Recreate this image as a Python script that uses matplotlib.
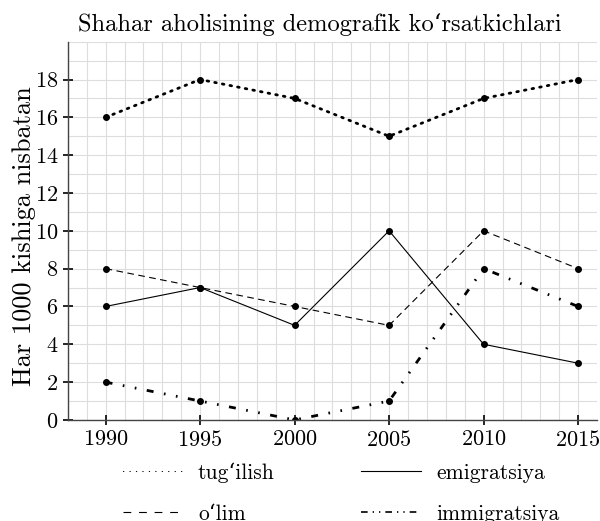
import matplotlib.pyplot as plt
from matplotlib.lines import Line2D

plt.rcParams['font.family'] = ['cmr10', 'DejaVu Serif']
plt.rcParams['mathtext.fontset'] = 'cm'
plt.rcParams['axes.formatter.use_mathtext'] = True

years = [1990, 1995, 2000, 2005, 2010, 2015]
tugilish = [16, 18, 17, 15, 17, 18]
olim = [8, 7, 6, 5, 10, 8]
emigratsiya = [6, 7, 5, 10, 4, 3]
immigratsiya = [2, 1, 0, 1, 8, 6]
labels = ['tug‘ilish', 'o‘lim', 'emigratsiya', 'immigratsiya']

fig = plt.figure(figsize=(6.0, 5.21), dpi=100)
ax = fig.add_axes([0.113, 0.194, 0.882, 0.726])

dot_style = (0, (0.6, 2.2))
dash_style = (0, (6, 4))
dashdot_style = (0, (2.5, 3.8, 0.6, 3.8, 0.6, 3.8))

ax.plot(years, tugilish, color='black', linestyle=dot_style, linewidth=2.0,
        dash_capstyle='round', marker='o', markersize=4)
ax.plot(years, olim, color='black', linestyle=dash_style, linewidth=0.8,
        marker='o', markersize=4)
ax.plot(years, emigratsiya, color='black', linestyle='-', linewidth=0.8,
        marker='o', markersize=4)
ax.plot(years, immigratsiya, color='black', linestyle=dashdot_style,
        linewidth=2.0, marker='o', markersize=4)

ax.set_xlim(1988, 2016)
ax.set_ylim(0, 20)
ax.set_xticks(years)
ax.set_yticks(range(0, 19, 2))
ax.set_xticks(range(1988, 2017), minor=True)
ax.set_yticks(range(0, 21), minor=True)
ax.grid(True, which='both', color='#dddddd', linewidth=0.8)
ax.set_axisbelow(True)
ax.tick_params(which='major', direction='inout', length=7, width=1.2, labelsize=16)
ax.tick_params(which='minor', length=0)
for s in ['top', 'right']:
    ax.spines[s].set_visible(False)
for s in ['left', 'bottom']:
    ax.spines[s].set_color('#444444')
    ax.spines[s].set_linewidth(1.0)

ax.set_ylabel('Har 1000 kishiga nisbatan', fontsize=19, labelpad=-1, y=0.485)
ax.set_title('Shahar aholisining demografik ko‘rsatkichlari', fontsize=17.6, pad=8, x=0.477)

# thin legend samples, like the reference
proxies = [
    Line2D([], [], color='black', linewidth=0.8, linestyle=(0, (0.3, 5.5)), dash_capstyle='round'),
    Line2D([], [], color='black', linewidth=0.8, linestyle=(0, (7, 7))),
    Line2D([], [], color='black', linewidth=0.8, linestyle='-'),
    Line2D([], [], color='black', linewidth=1.2, linestyle=(0, (4, 3, 0.8, 3, 0.8, 3))),
]
fig.legend(proxies, labels, loc='upper left', bbox_to_anchor=(0.172, 0.15), ncol=2,
           frameon=False, fontsize=15.5, handlelength=2.8, columnspacing=4.0,
           handletextpad=0.7, labelspacing=1.0)

fig.savefig('out.png', dpi=100)
